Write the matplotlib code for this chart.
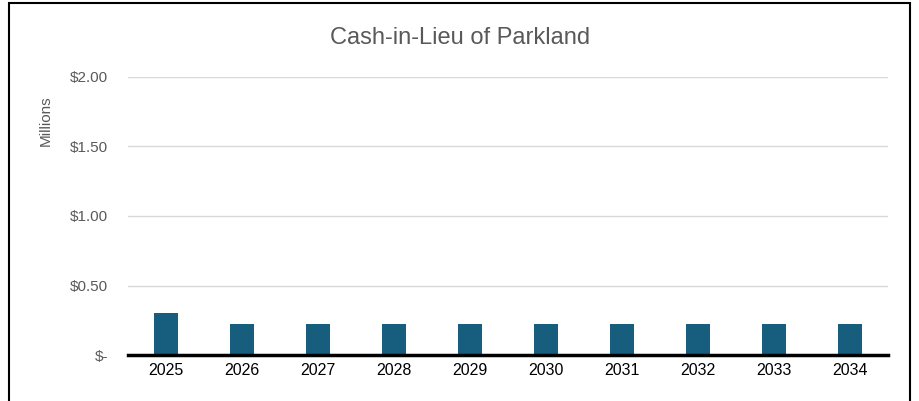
import matplotlib.pyplot as plt
from matplotlib.patches import Rectangle

years = ['2025', '2026', '2027', '2028', '2029', '2030', '2031', '2032', '2033', '2034']
values = [0.30, 0.22, 0.22, 0.22, 0.22, 0.22, 0.22, 0.22, 0.22, 0.22]  # millions
yticks = [0, 0.5, 1.0, 1.5, 2.0]
ylabels = ['$-', '$0.50', '$1.00', '$1.50', '$2.00']

plt.rcParams['font.family'] = ['Liberation Sans', 'DejaVu Sans']

fig = plt.figure(figsize=(9.2, 4.01), dpi=100)
ax = fig.add_axes([0.139, 0.1147, 0.826, 0.6933])

x = list(range(len(years)))
ax.bar(x, values, width=0.32, color='#175e7e', zorder=3)

ax.set_xlim(-0.5, len(years) - 0.5)
ax.set_ylim(0, 2.0)
ax.set_yticks(yticks)
ax.set_yticklabels(ylabels, color='#595959', fontsize=11)
ax.set_xticks(x)
ax.set_xticklabels(years, fontsize=11.5, color='black')
ax.tick_params(axis='both', length=0)
ax.tick_params(axis='y', pad=14)
ax.tick_params(axis='x', pad=6)
ax.grid(axis='y', color='#d9d9d9', linewidth=1, zorder=0)
for s in ['top', 'right', 'left']:
    ax.spines[s].set_visible(False)
ax.spines['bottom'].set_color('black')
ax.spines['bottom'].set_linewidth(2.5)
ax.spines['bottom'].set_zorder(4)

fig.text(46 / 920, 0.70, 'Millions', rotation=90, ha='center', va='center',
         color='#595959', fontsize=11)
fig.text(0.5, 0.905, 'Cash-in-Lieu of Parkland', ha='center', va='center',
         fontsize=17, color='#595959')

# chart frame (bottom edge cropped in the original)
fig.patches.append(Rectangle((9 / 920, -0.05), 901 / 920, 1.05 - 3 / 401,
                             transform=fig.transFigure, fill=False,
                             edgecolor='black', linewidth=1.5))

fig.savefig('out.png', dpi=100)
